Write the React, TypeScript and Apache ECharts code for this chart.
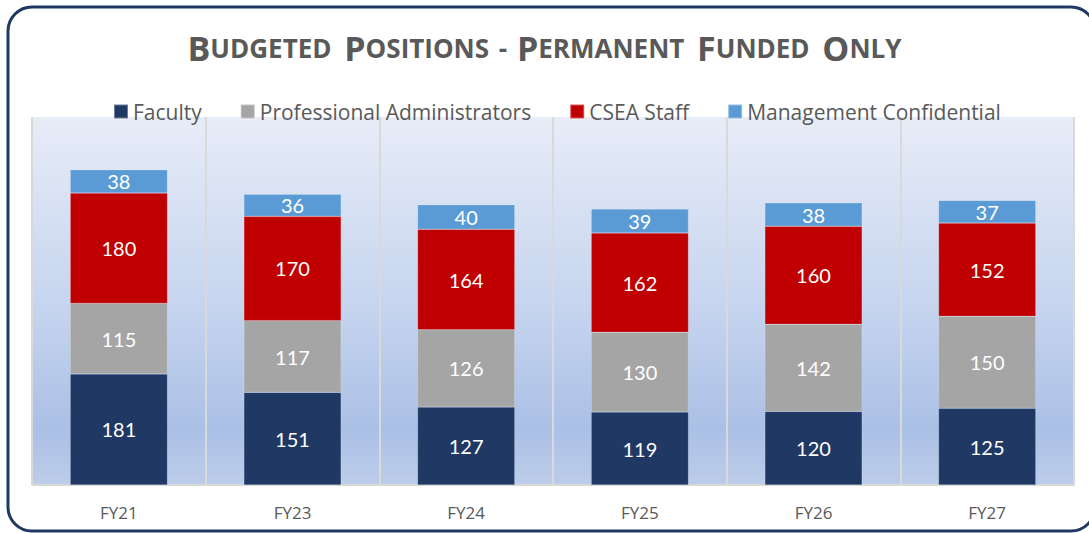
import React, { useEffect, useRef } from "react";
import * as echarts from "echarts";

const categories = ["FY21", "FY23", "FY24", "FY25", "FY26", "FY27"];
const faculty = [181, 151, 127, 119, 120, 125];
const profAdmin = [115, 117, 126, 130, 142, 150];
const cseaStaff = [180, 170, 164, 162, 160, 152];
const mgmtConf = [38, 36, 40, 39, 38, 37];
const seriesNames = ["Faculty", "Professional Administrators", "CSEA Staff", "Management Confidential"];
const seriesColors = ["#1F3864", "#A5A5A5", "#C00000", "#5B9BD5"];

const FONT = "Lato";
const TITLE_FONT = "Open Sans";

export default function App() {
  const ref = useRef<HTMLDivElement>(null);
  useEffect(() => {
    if (!ref.current) return;
    const chart = echarts.init(ref.current, null, { renderer: "svg" });
    const data = [faculty, profAdmin, cseaStaff, mgmtConf];
    const titleParts: [string, string][] = [
      ["B", "b"], ["UDGETED", "s"], [" ", "g"], ["P", "b"], ["OSITIONS", "s"], [" - ", "g"],
      ["P", "b"], ["ERMANENT", "s"], [" ", "g"], ["F", "b"], ["UNDED", "s"], [" ", "g"], ["O", "b"], ["NLY", "s"],
    ];
    const titleText = titleParts.map(([t, k]) => `{${k}|${t}}`).join("");
    chart.setOption({
      animation: false,
      backgroundColor: "#ffffff",
      textStyle: { fontFamily: FONT },
      graphic: [
        {
          type: "rect",
          shape: { x: 8, y: 7, width: 1087, height: 524, r: 24 },
          style: { fill: "none", stroke: "#1F3864", lineWidth: 3 },
          z: 100,
        },
        {
          type: "text",
          left: "center",
          top: 31,
          style: {
            text: titleText,
            rich: {
              b: { fontSize: 34, fontWeight: "bold", fill: "#595959", fontFamily: TITLE_FONT },
              s: { fontSize: 26, fontWeight: "bold", fill: "#595959", fontFamily: TITLE_FONT },
              g: { fontSize: 26, fontWeight: "bold", fill: "#595959", fontFamily: TITLE_FONT, padding: [0, 3] },
            },
          },
        },
      ],
      legend: {
        top: 101,
        left: 113,
        padding: 0,
        itemWidth: 14,
        itemHeight: 14,
        itemGap: 38,
        icon: "rect",
        textStyle: { fontSize: 21, color: "#595959", fontFamily: TITLE_FONT },
        data: seriesNames,
      },
      grid: {
        left: 32,
        right: 15,
        top: 117,
        bottom: 48,
        show: true,
        borderWidth: 0,
        backgroundColor: new echarts.graphic.LinearGradient(0, 0, 0, 1, [
          { offset: 0, color: "#e7ecf7" },
          { offset: 0.5, color: "#c7d5ef" },
          { offset: 0.85, color: "#abc0e6" },
          { offset: 1, color: "#bdcdea" },
        ]),
      },
      xAxis: {
        type: "category",
        data: categories,
        axisLine: { show: true, lineStyle: { color: "#d9d9d9", width: 2 } },
        axisTick: { show: false },
        splitLine: { show: true, lineStyle: { color: "#d9d9d9", width: 2 } },
        axisLabel: { color: "#595959", fontSize: 17, margin: 19, fontFamily: TITLE_FONT },
      },
      yAxis: {
        type: "value",
        min: 0,
        max: 600,
        show: false,
        splitLine: { show: false },
      },
      series: seriesNames.map((name, i) => ({
        name,
        type: "bar",
        stack: "total",
        barWidth: "56%",
        data: data[i],
        itemStyle: { color: seriesColors[i], borderColor: "rgba(255,255,255,0.35)", borderWidth: 0.5 },
        label: {
          show: true,
          position: "inside",
          color: "#ffffff",
          fontSize: 20,
          fontFamily: FONT,
        },
      })),
    });
    return () => chart.dispose();
  }, []);
  return (
    <div
      ref={ref}
      style={{ position: "fixed", left: 0, top: 0, width: 1089, height: 533 }}
    />
  );
}
